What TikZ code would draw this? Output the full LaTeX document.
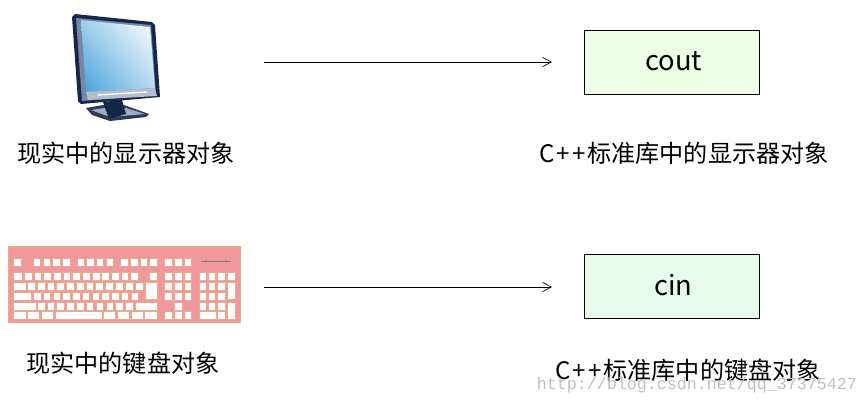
\documentclass[tikz,border=0pt]{standalone}
\usepackage{fontspec}
\setmainfont{Noto Sans CJK SC}
\newfontfamily\markfont{Liberation Mono}
\usetikzlibrary{arrows.meta,shadings}

\definecolor{coutfill}{RGB}{238,255,230}
\definecolor{cinfill}{RGB}{230,250,238}
\definecolor{kbpink}{RGB}{241,152,156}
\definecolor{kbedge}{RGB}{236,170,140}
\definecolor{bezel}{RGB}{22,40,74}
\definecolor{rim}{RGB}{120,134,165}
\definecolor{screenblue}{RGB}{66,160,216}

\tikzset{
  label text/.style={font=\fontsize{18.1}{18}\selectfont,text=black,inner sep=0pt},
  object box/.style={draw=black,minimum width=131.25pt,minimum height=48pt,inner sep=0pt,
    font=\fontsize{20.5}{20}\selectfont},
  kbkey/.style={fill=white,draw=kbedge,line width=.35pt},
  link/.style={draw=black,line width=.5pt,-{Straight Barb[length=6.5pt,width=7pt]}}
}

% one row of keys: top, bottom, list of left/right
\newcommand{\keyrow}[3]{\foreach \xl/\xr in {#3} \draw[kbkey] (\xl,#1) rectangle (\xr,#2);}
% box title, a little up and to the right of the middle
\newcommand{\boxtitle}[1]{\raisebox{1.6pt}{\hspace{2.4pt}#1}}
\newcommand{\cpp}{C\hspace{1.5pt}+\hspace{1.5pt}+\hspace{1.5pt}}

\begin{document}
\begin{tikzpicture}[x=.75pt,y=-.75pt]
        \useasboundingbox (0,0) rectangle (868,405);

        % monitor
        \fill[bezel!80!gray] (92,115) -- (86,108) -- (103,105) -- (124,105) -- (149,114) -- (146,117) -- (110,121) -- cycle;
        \fill[rim!70!white] (91,110) -- (104,108) -- (126,108) -- (145,114) -- (110,117) -- cycle;
        \fill[bezel] (103,102) -- (122,100) -- (126,114) -- (109,119) -- cycle;
        \fill[bezel] (72,17) -- (75,14) -- (152,22) -- (155,25) -- (160,97) -- (81,104) -- (78,101) -- cycle;
        \fill[rim] (76,18) -- (151,25) -- (156,95) -- (82,101) -- cycle;
        \shade[lower left=screenblue,upper right=white,upper left=screenblue!50!white,lower right=screenblue!40!white]
          (81,20) -- (150,27) -- (155,88) -- (86,92) -- cycle;
        \fill[rim!55!white] (86,92) -- (155,88) -- (157,96) -- (88,100) -- cycle;
        \draw[white,line width=1pt] (98,95) -- (147,92);

        % keyboard
        \draw[fill=kbpink,draw=kbedge,line width=.5pt] (8,246) rectangle (240,322);
        \keyrow{258}{266}{13/21,33/40,43/50,52/60,62/70,77/84,86/94,96/103,106/113,120/128,130/138,140/147,149/157,164/172,174/182,184/191}
        \keyrow{272}{280}{13/22,24/32,34/41,43/51,53/61,63/70,72/80,82/90,92/100,101/109,111/119,121/128,130/138,149/157,164/172,174/182,184/191,199/206,208/215,217/225,227/235}
        \keyrow{282}{290}{13/26,27/35,37/45,47/54,56/64,66/74,76/84,86/93,95/103,105/113,115/123,125/133,135/143,164/172,174/182,184/191,199/206,208/215,217/225}
        \keyrow{292}{300}{13/31,33/41,43/50,53/60,62/70,72/80,82/89,92/99,101/109,111/119,121/128,131/138,164/172,174/182,184/191,199/206,208/215,217/225}
        \keyrow{302}{310}{13/36,37/45,47/54,56/64,66/74,76/84,86/93,96/103,106/113,115/123,125/133,135/157,174/182,199/206,208/215,217/225}
        \keyrow{311}{319}{13/26,27/39,41/53,55/102,103/115,117/129,131/143,144/157,164/172,174/182,184/191,199/216,217/225}
        \draw[kbkey] (145,282) rectangle (157,299);
        \draw[kbkey] (227,282) rectangle (235,299);
        \draw[kbkey] (227,302) rectangle (235,319);
        \draw[gray,line width=.3pt] (201,261) -- (231,261);
        \foreach \xd in {206,216,226} \fill[gray] (\xd,261) circle (.8);

        \begin{scope}[every node/.style={label text}]
          \node (realdisp)  at (126,153) {现实中的显示器对象};
          \node (stddisp)   at (684,153) {\cpp 标准库中的显示器对象};
          \node (realkeys)  at (123,363) {现实中的键盘对象};
          \node (stdkeys)   at (688,370) {\cpp 标准库中的键盘对象};
        \end{scope}

        \node[object box,fill=coutfill] (cout) at (672,62)  {\boxtitle{cout}};
        \node[object box,fill=cinfill]  (cin)  at (672,286) {\boxtitle{cin}};

        \coordinate (dispfrom) at (264,62);
        \coordinate (dispto)   at (552,62);
        \coordinate (keysfrom) at (264,287);
        \coordinate (keysto)   at (552,287);
        \draw[link] (dispfrom) -- (dispto);
        \draw[link] (keysfrom) -- (keysto);

        \node[font=\markfont\fontsize{12.5}{12.5}\selectfont,text=gray!50!white,inner sep=0pt] (mark) at (697,385) {http://blog.csdn.net/qq\_37375427};

      \end{tikzpicture}
\end{document}
